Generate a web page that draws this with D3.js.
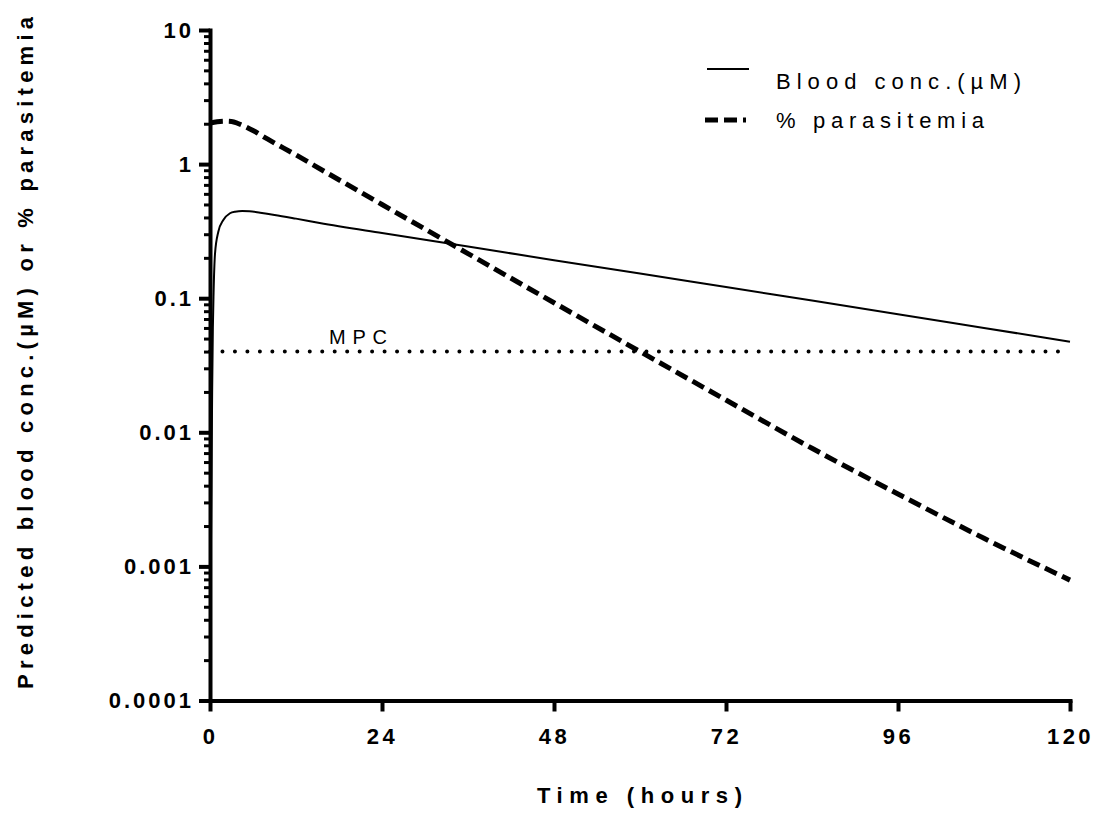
<!DOCTYPE html>
<html><head><meta charset="utf-8">
<script src="https://cdn.jsdelivr.net/npm/d3@7"></script>
<style>
body{margin:0;background:#fff}
text{font-family:"Liberation Sans",Arial,Helvetica,sans-serif;fill:#000}
</style>
</head><body>
<svg id="c" width="1100" height="840"></svg>
<script>
// ---------- data ----------
const xTicks = [0, 24, 48, 72, 96, 120];
const xTickLabels = ["0", "24", "48", "72", "96", "120"];
const yTicks = [0.0001, 0.001, 0.01, 0.1, 1, 10];
const yTickLabels = ["0.0001", "0.001", "0.01", "0.1", "1", "10"];

const concTime  = [0.02, 0.1, 0.2, 0.3, 0.4, 0.5, 0.7, 1.16, 1.86, 2.79, 3.5, 4.5, 5.5, 7, 9, 12, 15.3, 24, 36, 48, 60, 72, 84, 96, 108, 120];
const concValue = [0.0001, 0.0008, 0.004, 0.02, 0.06, 0.11, 0.215, 0.313, 0.383, 0.430, 0.442, 0.447, 0.445, 0.434, 0.418, 0.392, 0.364, 0.306, 0.243, 0.192, 0.153, 0.121, 0.096, 0.076, 0.060, 0.0474];

const parTime  = [0, 1, 2, 3, 4, 6, 8, 12, 16, 24, 36, 48, 60, 72, 84, 96, 108, 120];
const parValue = [2.02, 2.07, 2.09, 2.08, 2.0, 1.78, 1.54, 1.17, 0.88, 0.50, 0.215, 0.0925, 0.040, 0.0174, 0.0076, 0.00347, 0.00162, 0.00079];

const mpcValue = 0.04;
const mpcSpan = [0, 120];
const mpcLabel = "MPC";

const seriesNames = ["Blood conc.(µM)", "% parasitemia"];
const xTitle = "Time (hours)";
const yTitle = "Predicted blood conc.(µM) or % parasitemia";

// ---------- chart ----------
const svg = d3.select("#c");
const x = d3.scaleLinear().domain([0, 120]).range([210, 1070]);
const y = d3.scaleLog().domain([0.0001, 10]).range([700.5, 30]);
const FONT = '"Liberation Sans",Arial,sans-serif';

// minor ticks
const minorTicks = [];
for (let e = -4; e < 1; e++) for (let m = 2; m <= 9; m++) minorTicks.push(m * Math.pow(10, e));

const gyMinor = svg.append("g").attr("transform", `translate(${x(0)},0)`)
  .call(d3.axisLeft(y).tickValues(minorTicks).tickSize(6).tickSizeOuter(0).tickFormat(""));
gyMinor.select(".domain").remove();
gyMinor.selectAll(".tick line").attr("stroke", "#000").attr("stroke-width", 3);

const gy = svg.append("g").attr("transform", `translate(${x(0)},0)`)
  .call(d3.axisLeft(y).tickValues(yTicks).tickSize(11).tickSizeOuter(0).tickPadding(8)
    .tickFormat((d, i) => yTickLabels[i]));
gy.select(".domain").attr("stroke", "#000").attr("stroke-width", 4).attr("stroke-linecap", "square");
gy.selectAll(".tick line").attr("stroke", "#000").attr("stroke-width", 4);
gy.selectAll(".tick text").attr("font-size", 22).attr("font-weight", "bold")
  .attr("letter-spacing", "3px").attr("dx", "3px").attr("font-family", FONT);

const gx = svg.append("g").attr("transform", `translate(0,${y(0.0001)})`)
  .call(d3.axisBottom(x).tickValues(xTicks).tickSize(11).tickSizeOuter(0).tickPadding(17)
    .tickFormat((d, i) => xTickLabels[i]));
gx.select(".domain").attr("stroke", "#000").attr("stroke-width", 4).attr("stroke-linecap", "square");
gx.selectAll(".tick line").attr("stroke", "#000").attr("stroke-width", 4);
gx.selectAll(".tick text").attr("font-size", 22).attr("font-weight", "bold")
  .attr("letter-spacing", "3.5px").attr("dx", "0px").attr("font-family", FONT);

// MPC dotted line
svg.append("line")
  .attr("x1", x(mpcSpan[0])).attr("x2", x(mpcSpan[1]))
  .attr("y1", y(mpcValue)).attr("y2", y(mpcValue))
  .attr("stroke", "#000").attr("stroke-width", 4).attr("stroke-linecap", "round")
  .attr("stroke-dasharray", "0 12.47");
svg.append("text").attr("x", x(16.6)).attr("y", y(mpcValue) - 8)
  .attr("font-size", 20).attr("textLength", 58).attr("lengthAdjust", "spacing").text(mpcLabel);

// lines
const line = d3.line().x(d => x(d[0])).y(d => y(d[1])).curve(d3.curveMonotoneX);
const concData = concTime.map((t, i) => [t, concValue[i]]);
const parData = parTime.map((t, i) => [t, parValue[i]]);

svg.append("path").datum(concData).attr("d", line)
  .attr("fill", "none").attr("stroke", "#000").attr("stroke-width", 2);
svg.append("path").datum(parData).attr("d", line)
  .attr("fill", "none").attr("stroke", "#000").attr("stroke-width", 5)
  .attr("stroke-dasharray", "13 6");

// legend
const leg = svg.append("g");
leg.append("line").attr("x1", 707).attr("x2", 749).attr("y1", 69).attr("y2", 69)
  .attr("stroke", "#000").attr("stroke-width", 2);
leg.append("text").attr("x", 776).attr("y", 89).attr("font-size", 22)
  .attr("textLength", 245).attr("lengthAdjust", "spacing").text(seriesNames[0]);
leg.append("line").attr("x1", 705).attr("x2", 746).attr("y1", 120).attr("y2", 120)
  .attr("stroke", "#000").attr("stroke-width", 5).attr("stroke-dasharray", "13 6");
leg.append("text").attr("x", 776).attr("y", 128).attr("font-size", 22)
  .attr("textLength", 208).attr("lengthAdjust", "spacing").text(seriesNames[1]);

// axis titles
svg.append("text").attr("x", 537).attr("y", 803)
  .attr("font-size", 22).attr("font-weight", "bold")
  .attr("textLength", 205).attr("lengthAdjust", "spacing").text(xTitle);
svg.append("text").attr("transform", "translate(33,689) rotate(-90)")
  .attr("font-size", 22).attr("font-weight", "bold")
  .attr("textLength", 672).attr("lengthAdjust", "spacing").text(yTitle);
</script>
</body></html>
